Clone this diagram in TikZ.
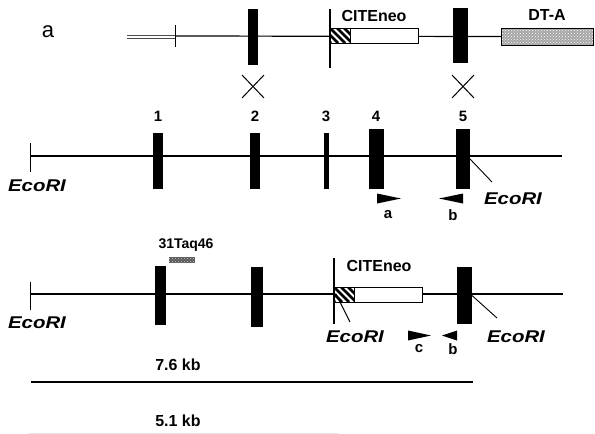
\documentclass[tikz,border=0pt]{standalone}
\usepackage{fontspec}
\setmainfont{Liberation Sans}
\usetikzlibrary{patterns}
\begin{document}
\begin{tikzpicture}[x=1pt,y=-1pt,
  bb/.style={line width=1.2pt},
  exon/.style={fill=black,draw=none,inner sep=0pt,outer sep=0pt},
  lab/.style={font=\fontsize{16}{18}\selectfont\bfseries,inner sep=0pt},
  small/.style={font=\fontsize{15}{17}\selectfont\bfseries,inner sep=0pt},
  eco/.style={font=\fontsize{17}{19}\selectfont\bfseries\itshape,inner sep=0pt},
  xmark/.style={line width=1pt},
  vbar/.style={line width=1.2pt},
  primer/.style={fill=black},
  hatch/.style={line width=2.6pt}]
\useasboundingbox (0,0) rectangle (595,434);

% ---------------- top row: targeting vector ----------------
\node[font=\fontsize{22}{24}\selectfont,inner sep=0pt] (lbla) at (48,32) {a};
\coordinate (t0) at (127,36);
\coordinate (t1) at (175,36);
\coordinate (t2) at (501,36.5);
\draw[line width=0.9pt,gray!60!black] (127,35) -- (175,35) (127,38) -- (175,38);
\draw[line width=0.8pt] (175,25) -- (175,47);
\draw[bb] (t1) -- (t2);
\node[exon,minimum width=10pt,minimum height=56pt] (te2) at (253,37) {};
\node[exon,minimum width=15pt,minimum height=55pt] (te5) at (460.5,35.5) {};
\draw[vbar] (330,9) -- (330,68);
\filldraw[fill=white,line width=0.8pt] (350,28) rectangle (418,43);
\begin{scope}
  \clip (330,28) rectangle (350,43);
  \fill[white] (330,28) rectangle (350,43);
  \foreach \i in {-21,-14,-7,0,7,14,21} \draw[hatch] (330+\i,28) -- ++(15,15);
\end{scope}
\draw[line width=0.8pt] (330,28) rectangle (350,43);
\node[lab] (tcite) at (374,16) {CITEneo};
\fill[gray!70] (501,28) rectangle (593,45);
\fill[pattern=crosshatch dots,pattern color=white] (501,28) rectangle (593,45);
\draw[line width=0.8pt] (501,28) rectangle (593,45);
\node[lab] (tdta) at (547,15) {DT-A};
\draw[xmark] (242,75) -- (264,98) (242,98) -- (264,75);
\draw[xmark] (452,75) -- (474,98) (452,98) -- (474,75);

% ---------------- middle row: wild-type gene ----------------
\coordinate (g0) at (30,156);
\coordinate (g1) at (562,156);
\draw[line width=1pt] (30,143) -- (30,172);
\draw[bb] (g0) -- (g1);
\node[exon,minimum width=10pt,minimum height=56pt] (e1) at (158,161) {};
\node[exon,minimum width=10pt,minimum height=56pt] (e2) at (255,161) {};
\node[exon,minimum width=5pt,minimum height=56pt] (e3) at (326.5,161) {};
\node[exon,minimum width=15pt,minimum height=60pt] (e4) at (376.5,159) {};
\node[exon,minimum width=14pt,minimum height=60pt] (e5) at (463,159) {};
\node[small] (n1) at (158,116) {1};
\node[small] (n2) at (255,116) {2};
\node[small] (n3) at (326,116) {3};
\node[small] (n4) at (376,116) {4};
\node[small] (n5) at (463,116) {5};
\node[eco] (ecoL1) at (37,186) {\scalebox{1.2}[1]{EcoRI}};
\coordinate (k1) at (492,182);
\draw[line width=0.9pt] (e5.east) -- (k1);
\node[eco] (ecoR1) at (513,199) {\scalebox{1.2}[1]{EcoRI}};
\fill[primer] (377,193.5) -- (377,203.5) -- (401,198.5) -- cycle;
\fill[primer] (463,193.5) -- (463,203.5) -- (439,198.5) -- cycle;
\node[small] (pa) at (388,215) {a};
\node[small] (pb1) at (453,215) {b};

% ---------------- bottom row: targeted allele ----------------
\coordinate (m0) at (30,294);
\coordinate (m1) at (563,294);
\draw[line width=1pt] (30,282) -- (30,310);
\draw[bb] (m0) -- (m1);
\node[exon,minimum width=11pt,minimum height=59pt] (m_e1) at (160.5,295.5) {};
\node[exon,minimum width=12pt,minimum height=60pt] (m_e2) at (257,297) {};
\node[exon,minimum width=15pt,minimum height=57pt] (m_e5) at (464.5,295.5) {};
\node[font=\fontsize{14}{16}\selectfont\bfseries,inner sep=0pt] (taq) at (186,245) {31Taq46};
\fill[gray!70!black] (169,257) rectangle (195,263);
\fill[pattern=crosshatch dots,pattern color=gray!40] (169,257) rectangle (195,263);
\filldraw[fill=white,line width=0.8pt] (354,287) rectangle (422,302);
\begin{scope}
  \clip (334,287) rectangle (354,302);
  \fill[white] (334,287) rectangle (354,302);
  \foreach \i in {-21,-14,-7,0,7,14,21} \draw[hatch] (334+\i,287) -- ++(15,15);
\end{scope}
\draw[line width=0.8pt] (334,287) rectangle (354,302);
\draw[vbar] (334,258) -- (334,324);
\coordinate (k2) at (350,322);
\draw[line width=0.9pt] (336,294) -- (k2);
\coordinate (k3) at (497,318);
\draw[line width=0.9pt] (m_e5.east) -- (k3);
\node[lab] (bcite) at (379,266) {CITEneo};
\node[eco] (ecoL2) at (37,323) {\scalebox{1.2}[1]{EcoRI}};
\node[eco] (ecoM2) at (355,337) {\scalebox{1.2}[1]{EcoRI}};
\node[eco] (ecoR2) at (516,337) {\scalebox{1.2}[1]{EcoRI}};
\fill[primer] (408,330.5) -- (408,340.5) -- (431,335.5) -- cycle;
\fill[primer] (457,330.5) -- (457,340.5) -- (442,335.5) -- cycle;
\node[small] (pc) at (419,349) {c};
\node[small] (pb2) at (453,349) {b};

% ---------------- fragment sizes ----------------
\node[lab] (kb76) at (178,365) {7.6 kb};
\coordinate (s0) at (31,382);
\coordinate (s1) at (473,382);
\draw[line width=1.1pt] (s0) -- (s1);
\node[lab] (kb51) at (178,421) {5.1 kb};
\coordinate (f0) at (28,433);
\coordinate (f1) at (338,433);
\draw[gray!20,line width=0.8pt] (f0) -- (f1);
\end{tikzpicture}
\end{document}
